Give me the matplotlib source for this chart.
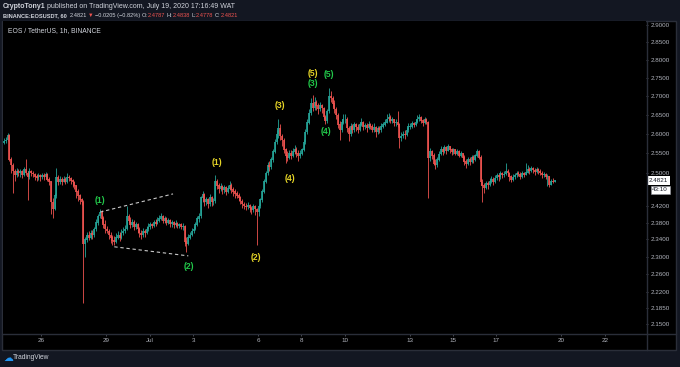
import numpy as np
import matplotlib
matplotlib.use('Agg')
import matplotlib.pyplot as plt
from matplotlib.lines import Line2D
from matplotlib.patches import Rectangle
from matplotlib.ticker import NullLocator

plt.rcParams['font.family'] = ['Liberation Sans', 'DejaVu Sans']

W, H = 680, 367
BG = '#131722'
FG = '#d1d4dc'
UP = '#26a69a'
DOWN = '#ef5350'
GRID = '#2a2e39'

# EOS/USDT at 2h steps, first candle 2020-06-24 06:00
start = '2020-06-24T06:00'
first_open = 2.578
closes = [
    2.582, 2.585, 2.598, 2.535, 2.520, 2.505, 2.495, 2.505, 2.500,                # Jun 24
    2.505, 2.495, 2.510, 2.500, 2.490, 2.505, 2.500, 2.498, 2.492, 2.488, 2.495, 2.490,  # Jun 25
    2.495, 2.490, 2.498, 2.485, 2.480, 2.430, 2.412, 2.445, 2.490, 2.478, 2.485, 2.480,  # Jun 26
    2.485, 2.480, 2.490, 2.488, 2.482, 2.478, 2.470, 2.455, 2.445, 2.435, 2.430, 2.330,  # Jun 27
    2.340, 2.350, 2.345, 2.355, 2.350, 2.365, 2.380, 2.395, 2.405, 2.390, 2.375, 2.365,  # Jun 28
    2.360, 2.350, 2.345, 2.338, 2.335, 2.345, 2.350, 2.345, 2.355, 2.360, 2.365, 2.395,  # Jun 29
    2.385, 2.375, 2.380, 2.370, 2.375, 2.365, 2.355, 2.350, 2.360, 2.355, 2.365, 2.370,  # Jun 30
    2.375, 2.372, 2.380, 2.378, 2.385, 2.390, 2.395, 2.385, 2.390, 2.380, 2.385, 2.378,  # Jul 1
    2.380, 2.375, 2.378, 2.372, 2.375, 2.370, 2.372, 2.335, 2.330, 2.345, 2.350, 2.360,  # Jul 2
    2.365, 2.375, 2.390, 2.395, 2.440, 2.448, 2.430, 2.435, 2.425, 2.440, 2.430, 2.432,  # Jul 3
    2.480, 2.470, 2.462, 2.468, 2.458, 2.465, 2.455, 2.462, 2.470, 2.460, 2.455, 2.450,  # Jul 4
    2.445, 2.440, 2.432, 2.425, 2.420, 2.418, 2.422, 2.415, 2.410, 2.418, 2.412, 2.405,  # Jul 5
    2.420, 2.435, 2.455, 2.480, 2.500, 2.520, 2.515, 2.535, 2.555, 2.580, 2.600, 2.615,  # Jul 6
    2.595, 2.585, 2.560, 2.545, 2.540, 2.550, 2.545, 2.555, 2.560, 2.550, 2.545, 2.550,  # Jul 7
    2.560, 2.580, 2.605, 2.630, 2.655, 2.680, 2.670, 2.685, 2.675, 2.665, 2.675, 2.668,  # Jul 8
    2.645, 2.635, 2.660, 2.700, 2.695, 2.680, 2.665, 2.650, 2.625, 2.610, 2.630, 2.640,  # Jul 9
    2.640, 2.615, 2.600, 2.620, 2.610, 2.625, 2.618, 2.612, 2.625, 2.630, 2.618, 2.622,  # Jul 10
    2.615, 2.625, 2.620, 2.612, 2.618, 2.605, 2.615, 2.610, 2.620, 2.625, 2.630, 2.640,  # Jul 11
    2.645, 2.635, 2.638, 2.628, 2.632, 2.625, 2.590, 2.595, 2.600, 2.598, 2.610, 2.620,  # Jul 12
    2.620, 2.628, 2.625, 2.632, 2.640, 2.645, 2.635, 2.630, 2.638, 2.632, 2.540, 2.555,  # Jul 13
    2.545, 2.525, 2.520, 2.535, 2.548, 2.560, 2.555, 2.565, 2.558, 2.568, 2.560, 2.555,  # Jul 14
    2.560, 2.550, 2.555, 2.545, 2.550, 2.540, 2.530, 2.525, 2.535, 2.528, 2.540, 2.535,  # Jul 15
    2.545, 2.555, 2.540, 2.478, 2.470, 2.465, 2.475, 2.472, 2.480, 2.485, 2.478, 2.488,  # Jul 16
    2.495, 2.490, 2.500, 2.495, 2.498, 2.505, 2.500, 2.492, 2.485, 2.490, 2.495, 2.500,  # Jul 17
    2.498, 2.492, 2.500, 2.496, 2.502, 2.510, 2.505, 2.512, 2.508, 2.503, 2.510, 2.506,  # Jul 18
    2.500, 2.495, 2.498, 2.490, 2.492, 2.472, 2.480, 2.479, 2.482,                # Jul 19
]
highs = [
    2.590, 2.592, 2.602, 2.600, 2.540, 2.525, 2.510, 2.512, 2.510,
    2.510, 2.508, 2.515, 2.537, 2.505, 2.512, 2.508, 2.505, 2.500, 2.497, 2.500, 2.498,
    2.500, 2.500, 2.503, 2.500, 2.490, 2.482, 2.440, 2.450, 2.514, 2.495, 2.492, 2.490,
    2.492, 2.490, 2.500, 2.495, 2.490, 2.486, 2.482, 2.472, 2.460, 2.448, 2.440, 2.435,
    2.345, 2.358, 2.360, 2.362, 2.362, 2.370, 2.388, 2.400, 2.412, 2.410, 2.395, 2.385,
    2.372, 2.365, 2.358, 2.350, 2.348, 2.355, 2.360, 2.358, 2.365, 2.370, 2.375, 2.420,
    2.400, 2.392, 2.388, 2.385, 2.382, 2.378, 2.370, 2.362, 2.368, 2.365, 2.372, 2.378,
    2.382, 2.380, 2.386, 2.388, 2.392, 2.398, 2.402, 2.398, 2.396, 2.392, 2.390, 2.388,
    2.386, 2.384, 2.385, 2.382, 2.380, 2.378, 2.380, 2.375, 2.345, 2.352, 2.358, 2.366,
    2.372, 2.382, 2.396, 2.402, 2.445, 2.455, 2.450, 2.442, 2.438, 2.448, 2.445, 2.440,
    2.496, 2.485, 2.475, 2.475, 2.470, 2.472, 2.468, 2.470, 2.480, 2.476, 2.465, 2.460,
    2.455, 2.450, 2.445, 2.436, 2.430, 2.428, 2.430, 2.425, 2.420, 2.425, 2.422, 2.415,
    2.425, 2.440, 2.462, 2.485, 2.505, 2.528, 2.530, 2.540, 2.562, 2.588, 2.610, 2.640,
    2.625, 2.600, 2.590, 2.565, 2.555, 2.560, 2.558, 2.565, 2.572, 2.566, 2.558, 2.560,
    2.565, 2.588, 2.612, 2.640, 2.665, 2.695, 2.702, 2.698, 2.690, 2.682, 2.685, 2.680,
    2.672, 2.650, 2.665, 2.722, 2.715, 2.700, 2.690, 2.672, 2.655, 2.635, 2.640, 2.652,
    2.652, 2.645, 2.620, 2.628, 2.625, 2.632, 2.630, 2.625, 2.632, 2.642, 2.635, 2.630,
    2.628, 2.635, 2.630, 2.625, 2.628, 2.620, 2.622, 2.620, 2.628, 2.632, 2.640, 2.652,
    2.655, 2.650, 2.645, 2.640, 2.640, 2.660, 2.628, 2.605, 2.608, 2.610, 2.618, 2.628,
    2.628, 2.635, 2.632, 2.640, 2.650, 2.652, 2.648, 2.640, 2.645, 2.642, 2.635, 2.565,
    2.560, 2.552, 2.535, 2.542, 2.555, 2.568, 2.565, 2.572, 2.570, 2.575, 2.570, 2.565,
    2.565, 2.562, 2.562, 2.558, 2.556, 2.552, 2.545, 2.535, 2.540, 2.540, 2.546, 2.545,
    2.548, 2.562, 2.560, 2.545, 2.485, 2.475, 2.482, 2.480, 2.488, 2.492, 2.490, 2.495,
    2.500, 2.498, 2.505, 2.502, 2.505, 2.525, 2.510, 2.502, 2.495, 2.497, 2.500, 2.505,
    2.505, 2.503, 2.506, 2.504, 2.525, 2.520, 2.515, 2.518, 2.516, 2.512, 2.516, 2.514,
    2.510, 2.505, 2.502, 2.500, 2.498, 2.494, 2.485, 2.488, 2.484,
]
lows = [
    2.575, 2.578, 2.583, 2.530, 2.500, 2.450, 2.480, 2.490, 2.492,
    2.490, 2.488, 2.492, 2.496, 2.434, 2.485, 2.492, 2.490, 2.484, 2.480, 2.484, 2.482,
    2.485, 2.484, 2.486, 2.480, 2.472, 2.400, 2.390, 2.410, 2.440, 2.470, 2.474, 2.472,
    2.478, 2.474, 2.476, 2.480, 2.474, 2.466, 2.460, 2.440, 2.432, 2.425, 2.422, 2.196,
    2.300, 2.335, 2.338, 2.340, 2.342, 2.345, 2.360, 2.375, 2.390, 2.380, 2.368, 2.355,
    2.355, 2.340, 2.332, 2.328, 2.326, 2.332, 2.340, 2.336, 2.342, 2.350, 2.355, 2.362,
    2.380, 2.368, 2.370, 2.362, 2.365, 2.355, 2.345, 2.340, 2.345, 2.346, 2.352, 2.360,
    2.365, 2.366, 2.370, 2.372, 2.376, 2.382, 2.385, 2.378, 2.380, 2.374, 2.376, 2.370,
    2.370, 2.368, 2.370, 2.366, 2.366, 2.364, 2.362, 2.325, 2.310, 2.326, 2.340, 2.348,
    2.355, 2.362, 2.372, 2.382, 2.390, 2.430, 2.420, 2.422, 2.415, 2.420, 2.420, 2.422,
    2.428, 2.462, 2.452, 2.455, 2.448, 2.450, 2.446, 2.450, 2.458, 2.452, 2.444, 2.440,
    2.438, 2.432, 2.425, 2.415, 2.412, 2.410, 2.412, 2.405, 2.400, 2.405, 2.398, 2.328,
    2.395, 2.415, 2.430, 2.452, 2.475, 2.495, 2.505, 2.510, 2.528, 2.550, 2.575, 2.590,
    2.585, 2.570, 2.550, 2.525, 2.532, 2.535, 2.536, 2.540, 2.548, 2.540, 2.532, 2.538,
    2.545, 2.555, 2.575, 2.600, 2.625, 2.650, 2.660, 2.662, 2.662, 2.652, 2.660, 2.655,
    2.638, 2.625, 2.630, 2.655, 2.685, 2.672, 2.655, 2.640, 2.615, 2.585, 2.605, 2.625,
    2.630, 2.605, 2.582, 2.595, 2.602, 2.605, 2.608, 2.602, 2.608, 2.620, 2.610, 2.612,
    2.605, 2.612, 2.612, 2.605, 2.606, 2.592, 2.600, 2.602, 2.605, 2.615, 2.620, 2.628,
    2.632, 2.628, 2.630, 2.622, 2.622, 2.618, 2.565, 2.582, 2.590, 2.588, 2.595, 2.605,
    2.612, 2.615, 2.618, 2.620, 2.628, 2.635, 2.628, 2.622, 2.625, 2.625, 2.440, 2.530,
    2.535, 2.520, 2.510, 2.515, 2.530, 2.545, 2.545, 2.552, 2.548, 2.555, 2.550, 2.545,
    2.548, 2.545, 2.546, 2.540, 2.540, 2.530, 2.520, 2.512, 2.522, 2.520, 2.526, 2.525,
    2.532, 2.540, 2.535, 2.470, 2.430, 2.450, 2.460, 2.462, 2.468, 2.475, 2.470, 2.475,
    2.484, 2.482, 2.486, 2.488, 2.490, 2.495, 2.492, 2.482, 2.478, 2.480, 2.486, 2.490,
    2.492, 2.485, 2.488, 2.490, 2.495, 2.500, 2.498, 2.502, 2.500, 2.496, 2.500, 2.498,
    2.495, 2.488, 2.490, 2.485, 2.468, 2.465, 2.470, 2.476, 2.478,
]

# Elliott wave labels: text, time, price, colour
wave_text = ['(1)', '(2)', '(1)', '(2)', '(3)', '(4)', '(5)', '(3)', '(4)', '(5)']
wave_time = ['2020-06-28T17:00', '2020-07-02T19:00', '2020-07-04T02:00', '2020-07-05T22:00',
             '2020-07-07T00:00', '2020-07-07T11:00', '2020-07-08T12:30', '2020-07-08T12:30',
             '2020-07-09T03:00', '2020-07-09T06:30']
wave_price = [2.432, 2.277, 2.527, 2.298, 2.676, 2.488, 2.762, 2.735, 2.606, 2.758]
wave_col = ['g', 'g', 'y', 'y', 'y', 'y', 'y', 'g', 'g', 'g']

# dashed wedge lines
upper_line_t = ['2020-06-28T17:00', '2020-07-02T01:45']
upper_line_p = [2.405, 2.449]
lower_line_t = ['2020-06-29T08:40', '2020-07-02T18:40']
lower_line_p = [2.323, 2.302]

ytick_vals = [2.9, 2.85, 2.8, 2.75, 2.7, 2.65, 2.6, 2.55, 2.5,
              2.42, 2.38, 2.34, 2.3, 2.26, 2.22, 2.185, 2.15]
xtick_dates = ['2020-06-26', '2020-06-29', '2020-07-01', '2020-07-03', '2020-07-06',
               '2020-07-08', '2020-07-10', '2020-07-13', '2020-07-15', '2020-07-17',
               '2020-07-20', '2020-07-22']
xtick_labels = ['26', '29', 'Jul', '3', '6', '8', '10', '13', '15', '17', '20', '22']
last_price = 2.4821


def dnum(s):
    return (np.datetime64(s) - np.datetime64('1970-01-01T00:00')) / np.timedelta64(1, 'D')


c = np.array(closes)
o = np.concatenate([[first_open], c[:-1]])
h = np.maximum(np.array(highs), np.maximum(o, c))
l = np.minimum(np.array(lows), np.minimum(o, c))
x = dnum(start) + np.arange(len(c)) * 2 / 24 + 0.5 / 24

fig = plt.figure(figsize=(W / 100, H / 100), dpi=100, facecolor=BG)

# chart pane frame
fig.patches.append(Rectangle((1.5 / W, 1 - 350 / H), 674.5 / W, 329.5 / H,
                             transform=fig.transFigure, facecolor='black',
                             edgecolor=GRID, lw=1, zorder=-5))
fig.add_artist(Line2D([646.5 / W] * 2, [1 - 350 / H, 1 - 20.5 / H],
                      transform=fig.transFigure, color=GRID, lw=1, zorder=5))
fig.add_artist(Line2D([1.5 / W, 676 / W], [1 - 334 / H] * 2,
                      transform=fig.transFigure, color=GRID, lw=1, zorder=5))

ax = fig.add_axes([3 / W, 1 - 334 / H, 643 / W, 313 / H], facecolor='black')
ax.set_yscale('log')
for s in ax.spines.values():
    s.set_visible(False)

up = c >= o
for m, col in ((up, UP), (~up, DOWN)):
    ax.vlines(x[m], l[m], h[m], color=col, lw=0.6)
    ax.vlines(x[m], np.minimum(o, c)[m] - 0.0005, np.maximum(o, c)[m] + 0.0005,
              color=col, lw=1.2)

for t, p in ((upper_line_t, upper_line_p), (lower_line_t, lower_line_p)):
    ax.plot([dnum(v) for v in t], p, color='#c8c8c8', lw=0.8, ls=(0, (3, 2.5)))

colors = {'g': '#22c94a', 'y': '#e5d427'}
for txt, tt, pp, cc in zip(wave_text, wave_time, wave_price, wave_col):
    ax.text(dnum(tt), pp, txt, color=colors[cc], fontsize=6.2, fontweight='bold',
            ha='center', va='center')

x0 = dnum('2020-06-26')
ax.set_xlim(x0 - 1.777, x0 + 27.908)
ax.set_ylim(2.1292, 2.9107)

ax.yaxis.tick_right()
ax.yaxis.set_minor_locator(NullLocator())
ax.set_yticks(ytick_vals)
ax.set_yticklabels([f'{v:.4f}' for v in ytick_vals])
ax.set_xticks([dnum(d) for d in xtick_dates])
ax.set_xticklabels(xtick_labels)
ax.tick_params(axis='both', colors='#6a6d78', labelcolor='#b2b5be', labelsize=4.5,
               length=1.5, width=0.5, pad=1.5)

# last price tag
ax.annotate(f'{last_price:.4f}', xy=(1, last_price), xycoords=('axes fraction', 'data'),
            xytext=(2.2, 0), textcoords='offset points', fontsize=4.5, color='#131722',
            va='center', ha='left', annotation_clip=False,
            bbox=dict(boxstyle='square,pad=0.25', fc='white', ec='none'))
ax.annotate('43:10', xy=(1, last_price), xycoords=('axes fraction', 'data'),
            xytext=(4.5, -6.6), textcoords='offset points', fontsize=4.5, color='#131722',
            va='center', ha='left', annotation_clip=False,
            bbox=dict(boxstyle='square,pad=0.25', fc='white', ec='#9598a1', lw=0.4))


def text_row(pieces, x_px, y_px, size):
    r = fig.canvas.get_renderer()
    for s, col, wt, gap in pieces:
        t = fig.text(x_px / W, 1 - y_px / H, s, color=col, fontsize=size,
                     fontweight=wt, ha='left', va='center')
        x_px = t.get_window_extent(r).x1 + gap


text_row([('CryptoTony1', FG, 'bold', 1.6),
          ('published on TradingView.com, July 19, 2020 17:16:49 WAT', FG, 'normal', 0)],
         3, 6.5, 5.0)
text_row([('BINANCE:EOSUSDT, 60', FG, 'bold', 2.5),
          ('2.4821', FG, 'normal', 1.2),
          ('▼', DOWN, 'normal', 1.2),
          ('−0.0205 (−0.82%)', FG, 'normal', 1.6),
          ('O:', FG, 'normal', 0.1), ('2.4787', DOWN, 'normal', 1.6),
          ('H:', FG, 'normal', 0.1), ('2.4838', DOWN, 'normal', 1.6),
          ('L:', FG, 'normal', 0.1), ('2.4778', DOWN, 'normal', 1.6),
          ('C:', FG, 'normal', 0.1), ('2.4821', DOWN, 'normal', 0)],
         3, 15.5, 4.1)
fig.text(8 / W, 1 - 31 / H, 'EOS / TetherUS, 1h, BINANCE', color=FG, fontsize=4.9,
         ha='left', va='center')

# footer logo
fig.text(3 / W, 1 - 357.5 / H, '☁', color='#2196f3', fontsize=7, ha='left', va='center',
         family=['DejaVu Sans'])
fig.text(13 / W, 1 - 357.5 / H, 'TradingView', color=FG, fontsize=4.8, ha='left', va='center')

fig.savefig('out.png', dpi=100, facecolor=BG)
